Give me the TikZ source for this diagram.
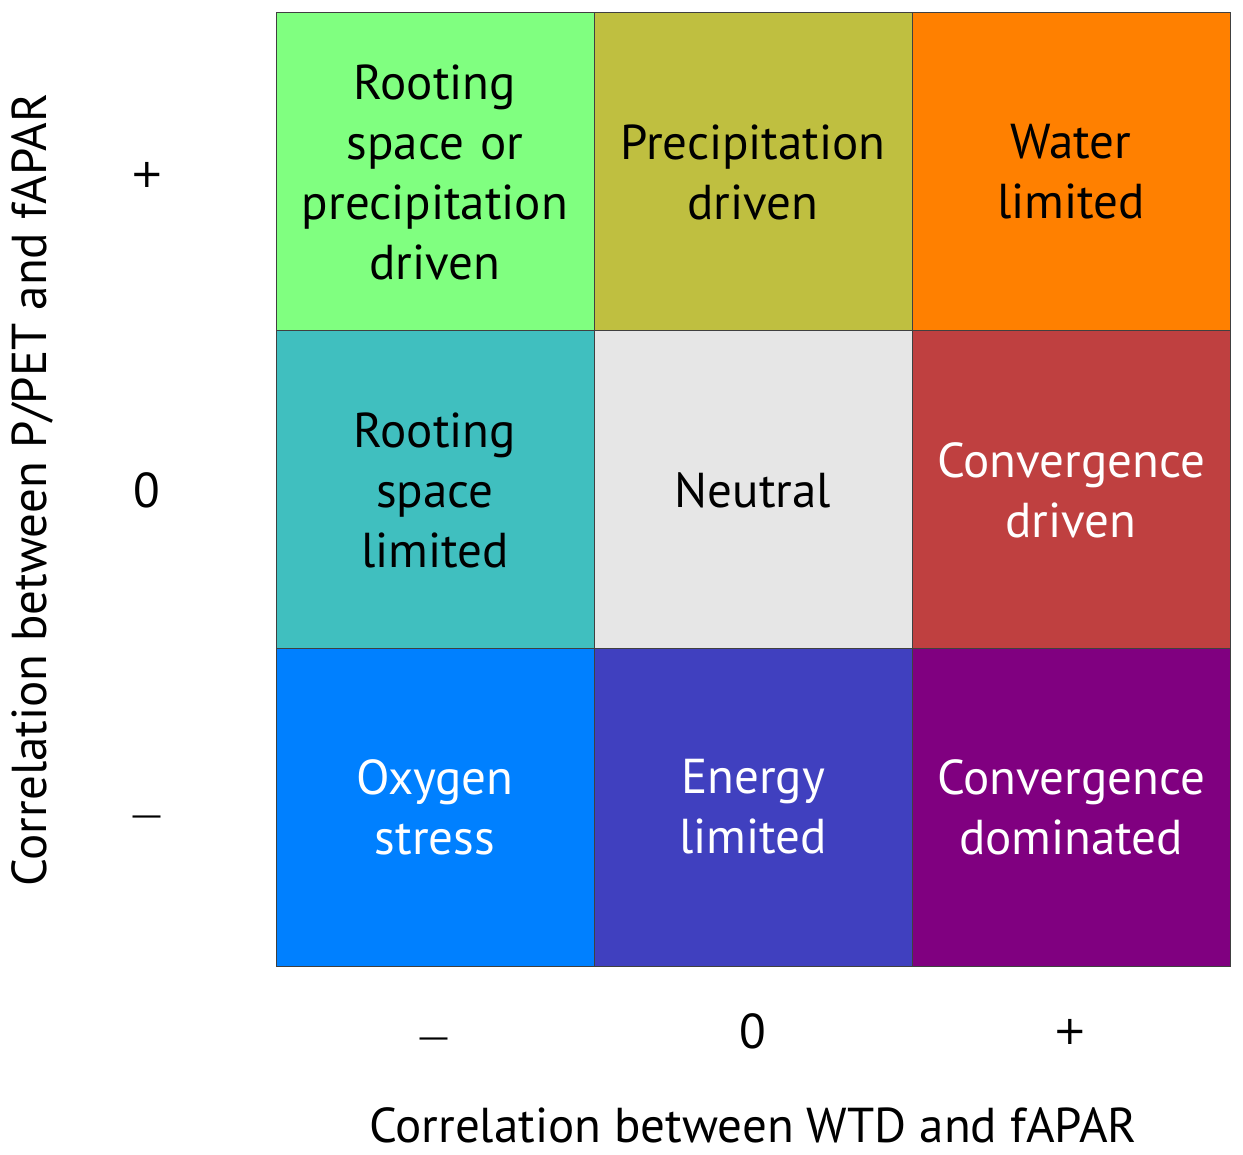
\documentclass[tikz,border=0pt]{standalone}
\usepackage{fontspec}
\setmainfont{PT Sans}
\newfontfamily\symfont{DejaVu Sans}
\definecolor{cA}{HTML}{80FF80}
\definecolor{cB}{HTML}{BFBF40}
\definecolor{cC}{HTML}{FF8000}
\definecolor{cD}{HTML}{40BFBF}
\definecolor{cE}{HTML}{E6E6E6}
\definecolor{cF}{HTML}{BF4040}
\definecolor{cG}{HTML}{0080FF}
\definecolor{cH}{HTML}{4040BF}
\definecolor{cI}{HTML}{800080}
\definecolor{edge}{HTML}{404040}
\begin{document}
\begin{tikzpicture}[x=1pt,y=-1pt,
  cell/.style={draw=edge,line width=1pt,minimum width=318pt,minimum height=318pt,inner sep=0pt,
    align=center,text width=310pt,font=\fontsize{49}{60}\selectfont},
  tick/.style={font=\fontsize{49}{56}\selectfont,inner sep=0pt},
  plus/.style={font=\symfont\fontsize{40}{40}\selectfont,inner sep=0pt},
  minus/.style={font=\symfont\fontsize{31}{31}\selectfont,inner sep=0pt,anchor=base},
  axis/.style={font=\fontsize{49}{56}\selectfont,inner sep=0pt}]
\useasboundingbox (0,0) rectangle (1243,1155);
\node[cell,fill=cA] (a) at (435,172) {Rooting\\space or\\precipitation\\driven};
\node[cell,fill=cB] (b) at (753,172) {Precipitation\\driven};
\node[cell,fill=cC] (c) at (1071,172) {Water\\limited};
\node[cell,fill=cD] (d) at (435,490) {Rooting\\space\\limited};
\node[cell,fill=cE] (e) at (753,490) {Neutral};
\node[cell,fill=cF,text=white] (f) at (1071,490) {Convergence\\driven};
\node[cell,fill=cG,text=white] (g) at (435,807) {Oxygen\\stress};
\node[cell,fill=cH,text=white] (h) at (753,807) {Energy\\limited};
\node[cell,fill=cI,text=white] (i) at (1071,807) {Convergence\\dominated};
\node[plus] (yp) at (147,175) {+};
\node[tick] (y0) at (147,490) {0};
\node[minus] (ym) at (147,825) {—};
\node[minus] (xm) at (434,1047) {—};
\node[tick] (x0) at (753,1031) {0};
\node[plus] (xp) at (1070,1032) {+};
\node[axis,rotate=90] (yl) at (32,490) {Correlation between P/PET and fAPAR};
\node[axis] (xl) at (753,1125) {Correlation between WTD and fAPAR};
\end{tikzpicture}
\end{document}
